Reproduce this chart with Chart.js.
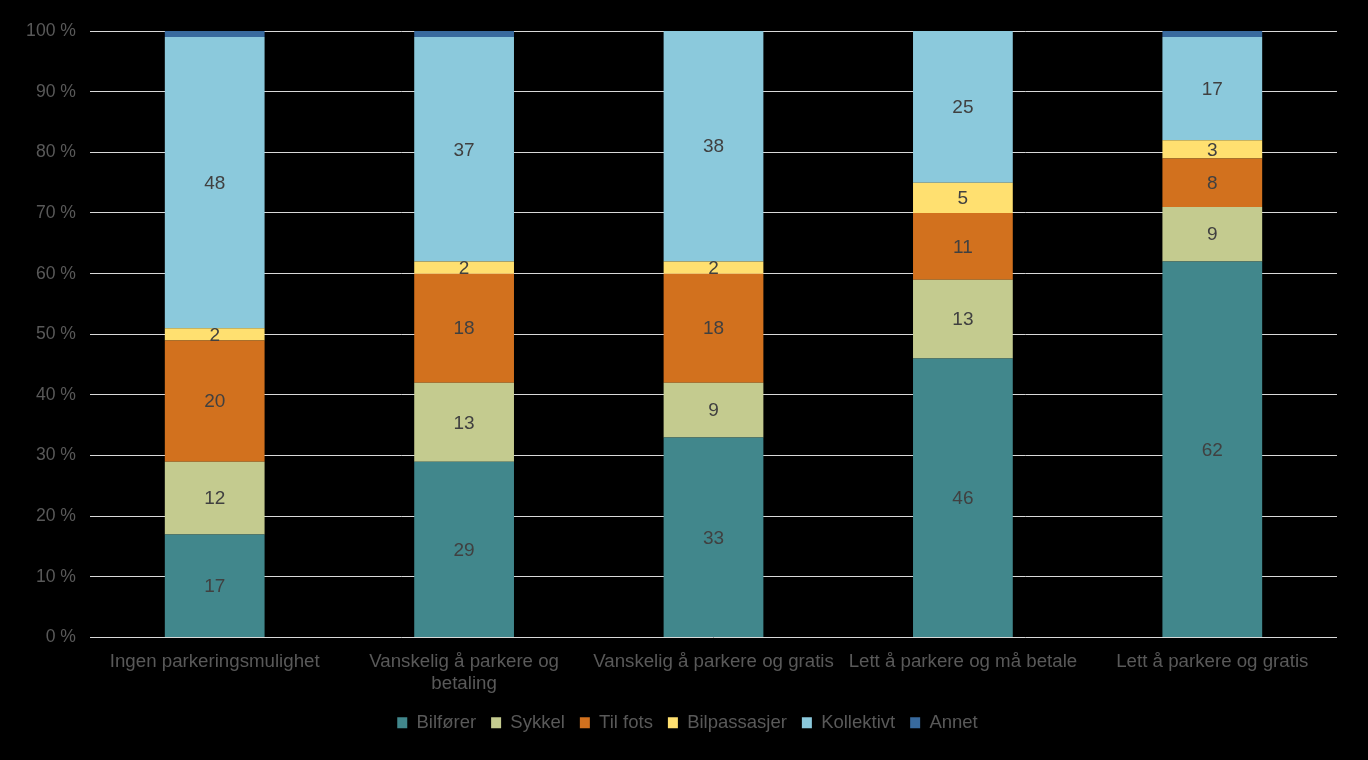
<!DOCTYPE html>
<html>
<head>
<meta charset="utf-8">
<script src="https://cdn.jsdelivr.net/npm/chart.js@4/dist/chart.umd.min.js"></script>
<style>
  html, body { margin: 0; padding: 0; background: #000; }
  #wrap { width: 1368px; height: 760px; }
</style>
</head>
<body>
<div id="wrap"><canvas id="chart" width="1368" height="760"></canvas></div>
<script>
const categories = [
  'Ingen parkeringsmulighet',
  ['Vanskelig å parkere og', 'betaling'],
  'Vanskelig å parkere og gratis',
  'Lett å parkere og må betale',
  'Lett å parkere og gratis'
];

const bilforer = [17, 29, 33, 46, 62];
const sykkel = [12, 13, 9, 13, 9];
const tilFots = [20, 18, 18, 11, 8];
const bilpassasjer = [2, 2, 2, 5, 3];
const kollektivt = [48, 37, 38, 25, 17];
const annet = [1, 1, 0, 0, 1];

const yTicks = [0, 10, 20, 30, 40, 50, 60, 70, 80, 90, 100];

const textColor = '#595959';
const labelColor = '#404040';

// draws the value in the middle of each segment
const barLabels = {
  id: 'barLabels',
  afterDatasetsDraw(chart) {
    const ctx = chart.ctx;
    ctx.save();
    ctx.font = '19px "Liberation Sans", Arial, sans-serif';
    ctx.fillStyle = labelColor;
    ctx.textAlign = 'center';
    ctx.textBaseline = 'middle';
    chart.data.datasets.forEach((ds, i) => {
      if (ds.label === 'Annet') return;
      chart.getDatasetMeta(i).data.forEach((bar, j) => {
        const v = ds.data[j];
        if (!v) return;
        const mid = (bar.y + bar.base) / 2;
        ctx.fillText(String(v), bar.x, mid + 1);
      });
    });
    ctx.restore();
  }
};

// legend sits a bit right of the canvas centre in the original
const legendShift = {
  id: 'legendShift',
  beforeDraw(chart) {
    chart.legend.left = 38;
  }
};

const ds = (label, data, color) => ({
  label, data,
  backgroundColor: color,
  borderWidth: 0,
  barPercentage: 0.4,
  categoryPercentage: 1
});

Chart.defaults.font.family = '"Liberation Sans", Arial, sans-serif';
Chart.defaults.font.size = 18;
Chart.defaults.color = textColor;

new Chart(document.getElementById('chart'), {
  type: 'bar',
  data: {
    labels: categories,
    datasets: [
      ds('Bilfører', bilforer, '#41878C'),
      ds('Sykkel', sykkel, '#C4CB8F'),
      ds('Til fots', tilFots, '#D2711E'),
      ds('Bilpassasjer', bilpassasjer, '#FFE070'),
      ds('Kollektivt', kollektivt, '#8BC9DC'),
      ds('Annet', annet, '#386A9E')
    ]
  },
  options: {
    responsive: false,
    animation: false,
    layout: { padding: { top: 31, right: 31, bottom: 18, left: 0 } },
    plugins: {
      legend: {
        position: 'bottom',
        labels: {
          boxWidth: 10,
          boxHeight: 11,
          padding: 15,
          color: textColor,
          font: { size: 18.5 }
        }
      },
      tooltip: { enabled: false }
    },
    scales: {
      x: {
        stacked: true,
        afterFit(scale) { scale.height -= 10; },
        grid: { display: false, drawTicks: false },
        border: { display: false },
        ticks: { maxRotation: 0, padding: 13, color: textColor, font: { size: 18.7 } }
      },
      y: {
        stacked: true,
        min: 0,
        max: 100,
        afterFit(scale) { scale.width = 90; },
        afterBuildTicks(scale) { scale.ticks = yTicks.map(v => ({ value: v })); },
        grid: { color: '#D9D9D9', lineWidth: 1, drawTicks: false },
        border: { display: false },
        ticks: {
          padding: 14,
          color: textColor,
          font: { size: 17.6 },
          callback: v => v + ' %'
        }
      }
    }
  },
  plugins: [barLabels, legendShift]
});
</script>
</body>
</html>
